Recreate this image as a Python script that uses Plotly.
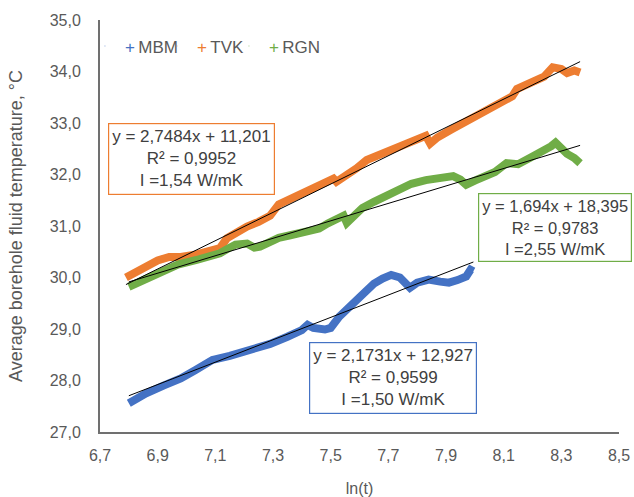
import plotly.graph_objects as go

# ---------------- data ----------------
mbm_x = [6.80, 6.83, 6.86, 6.92, 6.98, 7.03, 7.06, 7.09, 7.15, 7.21, 7.25, 7.29,
         7.35, 7.40, 7.42, 7.44, 7.48, 7.50, 7.53, 7.56, 7.59, 7.62, 7.65, 7.68,
         7.71, 7.74, 7.76, 7.775, 7.80, 7.84, 7.88, 7.91, 7.94, 7.97, 7.985, 7.995]
mbm_y = [27.56, 27.66, 27.75, 27.90, 28.04, 28.20, 28.32, 28.40, 28.48, 28.58, 28.64, 28.71,
         28.85, 28.98, 29.08, 29.02, 28.99, 29.02, 29.24, 29.42, 29.56, 29.72, 29.88, 29.98,
         30.05, 30.00, 29.88, 29.80, 29.90, 29.96, 29.92, 29.90, 29.95, 30.02, 30.15, 30.12]

tvk_x = [6.79, 6.83, 6.86, 6.90, 6.94, 6.98, 7.035, 7.08, 7.116, 7.14, 7.18, 7.21,
         7.25, 7.29, 7.32, 7.35, 7.394, 7.44, 7.48, 7.51, 7.52, 7.56, 7.59, 7.625,
         7.66, 7.70, 7.74, 7.80, 7.83, 7.845, 7.87, 7.92, 7.97, 8.03, 8.087, 8.13,
         8.146, 8.20, 8.24, 8.27, 8.30, 8.32, 8.345, 8.365]
tvk_y = [30.00, 30.12, 30.21, 30.33, 30.40, 30.40, 30.45, 30.50, 30.57, 30.76, 30.90, 30.99,
         31.08, 31.20, 31.42, 31.50, 31.62, 31.72, 31.82, 31.92, 31.86, 31.99, 32.12, 32.28,
         32.36, 32.47, 32.55, 32.68, 32.75, 32.60, 32.72, 32.88, 33.03, 33.22, 33.42, 33.52,
         33.66, 33.80, 33.90, 34.08, 34.05, 33.97, 34.02, 33.98]

rgn_x = [6.80, 6.84, 6.88, 6.92, 6.97, 7.035, 7.08, 7.116, 7.15, 7.17, 7.21, 7.235,
         7.255, 7.29, 7.32, 7.36, 7.42, 7.46, 7.49, 7.53, 7.545, 7.556, 7.58, 7.61,
         7.65, 7.69, 7.74, 7.78, 7.83, 7.88, 7.925, 7.95, 7.97, 8.00, 8.03, 8.07,
         8.11, 8.15, 8.20, 8.24, 8.265, 8.28, 8.30, 8.32, 8.345, 8.365]
rgn_y = [29.82, 29.92, 30.03, 30.15, 30.25, 30.34, 30.40, 30.47, 30.58, 30.64, 30.66, 30.58,
         30.60, 30.70, 30.77, 30.82, 30.88, 30.95, 31.05, 31.17, 31.20, 31.06, 31.18, 31.35,
         31.47, 31.58, 31.72, 31.82, 31.89, 31.92, 31.97, 31.90, 31.80, 31.88, 31.96, 32.05,
         32.22, 32.20, 32.35, 32.45, 32.55, 32.62, 32.50, 32.40, 32.32, 32.22]

# linear trendline coefficients (slope, intercept) as printed on the chart
mbm_fit = [2.1731, 12.927]
tvk_fit = [2.7484, 11.201]
rgn_fit = [1.694, 18.395]

series_names = ["MBM", "TVK", "RGN"]
x_ticks = [6.7, 6.9, 7.1, 7.3, 7.5, 7.7, 7.9, 8.1, 8.3, 8.5]
y_ticks = [27.0, 28.0, 29.0, 30.0, 31.0, 32.0, 33.0, 34.0, 35.0]

box_texts = [
    "y = 2,1731x + 12,927<br>R² = 0,9599<br>I =1,50 W/mK",
    "y = 2,7484x + 11,201<br>R² = 0,9952<br>I =1,54 W/mK",
    "y = 1,694x + 18,395<br>R² = 0,9783<br>I =2,55 W/mK",
]

# ---------------- styling ----------------
colors = ["#4472C4", "#ED7D31", "#70AD47"]
FONT = "Liberation Sans, Arial, sans-serif"
TXT = "#595959"

fig = go.Figure()

data = [(mbm_x, mbm_y, mbm_fit), (tvk_x, tvk_y, tvk_fit), (rgn_x, rgn_y, rgn_fit)]

for (xs, ys, _), c, n in zip(data, colors, series_names):
    fig.add_trace(go.Scatter(x=xs, y=ys, mode="lines", name=n,
                             line=dict(color=c, width=8), showlegend=False,
                             hoverinfo="skip"))

for (xs, ys, fit) in data:
    a, b = fit
    x0, x1 = xs[0], xs[-1]
    fig.add_trace(go.Scatter(x=[x0, x1], y=[a * x0 + b, a * x1 + b], mode="lines",
                             line=dict(color="black", width=1), showlegend=False,
                             hoverinfo="skip"))

# legend entries: coloured "+" followed by series name
for i, (c, n) in enumerate(zip(colors, series_names)):
    fig.add_trace(go.Scatter(x=[None], y=[None], mode="markers",
                             marker=dict(opacity=0, size=1, color=c),
                             legendwidth=(27 if i < 2 else 70),
                             name=f'<span style="color:{c}">+</span>\u2009{n}'))

box_pos = [(0.5645, 0.130), (0.177, 0.663), (0.877, 0.497)]
box_font = [17, 17, 16.5]
box_pad = [3, 3, 3]
for t, c, (px, py), fs, bp in zip(box_texts, colors, box_pos, box_font, box_pad):
    fig.add_annotation(text=t, xref="paper", yref="paper", x=px, y=py,
                       xanchor="center", yanchor="middle", showarrow=False,
                       align="center", bordercolor=c, borderwidth=1.2,
                       borderpad=bp, bgcolor="white",
                       font=dict(family=FONT, size=fs, color="#404040"))

fig.update_layout(
    width=634, height=497,
    margin=dict(l=100, r=15, t=20, b=65, autoexpand=False),
    paper_bgcolor="white", plot_bgcolor="white",
    separators=", ",
    font=dict(family=FONT, size=16, color=TXT),
    showlegend=True,
    legend=dict(orientation="h", x=-0.029, y=0.936, xanchor="left", yanchor="middle",
                bgcolor="rgba(0,0,0,0)", font=dict(size=17, color=TXT),
                itemwidth=30),
)
fig.update_xaxes(range=[6.7, 8.5], tickvals=x_ticks, tickformat=".1f",
                 showline=True, linecolor="#707070", linewidth=2,
                 showgrid=False, zeroline=False, ticks="", automargin=False,
                 ticklabelstandoff=8,
                 tickfont=dict(size=16, color=TXT),
                 title=dict(text="ln(t)", font=dict(size=16, color=TXT), standoff=27))
fig.update_yaxes(range=[27, 35], tickvals=y_ticks, tickformat=".1f",
                 showline=True, linecolor="#707070", linewidth=2,
                 showgrid=False, zeroline=False, ticks="", automargin=False,
                 ticklabelstandoff=14,
                 tickfont=dict(size=16, color=TXT),
                 title=dict(text="Average borehole fluid temperature, °C",
                            font=dict(size=18, color=TXT), standoff=22))

# remove the browser's default page margin so the figure sits at the window origin
fig.write_html("out.html", config={"displayModeBar": False},
               post_script="document.body.style.margin='0';document.body.style.overflow='hidden';")
